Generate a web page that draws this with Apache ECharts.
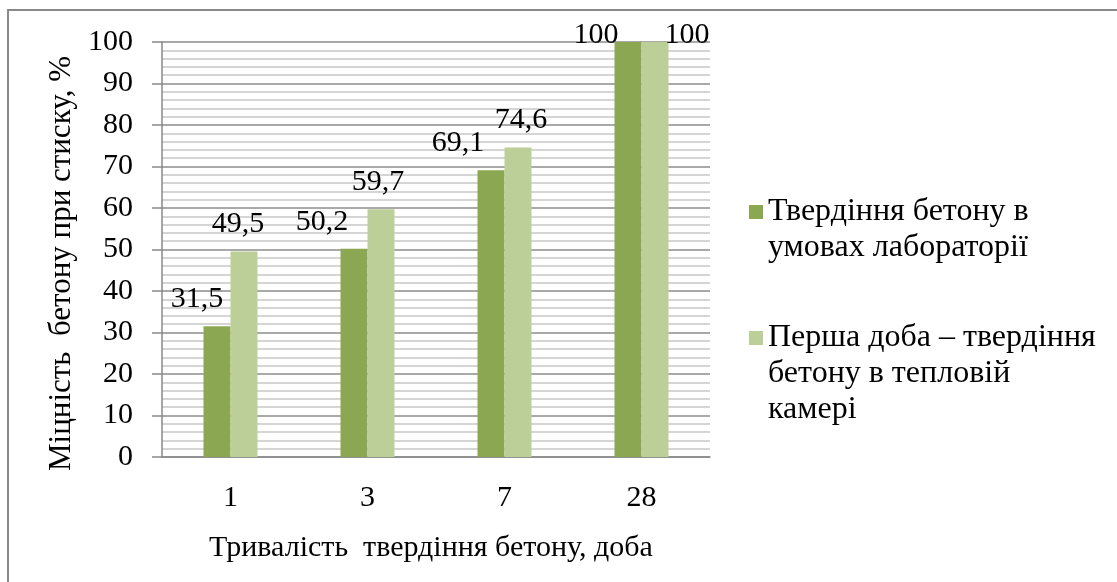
<!DOCTYPE html>
<html>
<head>
<meta charset="utf-8">
<script src="https://cdn.jsdelivr.net/npm/echarts@6/dist/echarts.min.js"></script>
<style>
  html, body { margin: 0; padding: 0; background: #fff; }
  #chart { width: 1117px; height: 582px; }
</style>
</head>
<body>
<div id="chart"></div>
<script>
// curing time, days
const days = ['1', '3', '7', '28'];
// strength, % of 28-day value
const labCuring = [31.5, 50.2, 69.1, 100];
const heatFirstDay = [49.5, 59.7, 74.6, 100];
const seriesNames = [
  'Твердіння бетону в умовах лабораторії',
  'Перша доба – твердіння бетону в тепловій камері'
];
const legendLines = [
  ['Твердіння бетону в', 'умовах лабораторії'],
  ['Перша доба – твердіння', 'бетону в тепловій', 'камері']
];

const FONT = '"Liberation Serif", "Times New Roman", serif';
const darkGreen = '#8ca752';
const lightGreen = '#bccf98';

// label nudges, as Excel placed them
const labShift = [[-20, 0], [-32, 0], [-33, 0], [-32, 20]];
const heatShift = [[-6, 0], [-3, 0], [3, 0], [32, 20]];

function fmt(v) { return String(v).replace('.', ','); }

function withLabels(values, shifts) {
  return values.map((v, i) => ({
    value: v,
    label: { offset: shifts[i] }
  }));
}

// push first line of each legend entry to the icon's height
function legendText(lines) {
  return '\n'.repeat(lines.length - 1) + lines.join('\n');
}

const chart = echarts.init(document.getElementById('chart'));

chart.setOption({
  animation: false,
  textStyle: { fontFamily: FONT },
  graphic: [{
    type: 'rect',
    shape: { x: 8, y: 10, width: 1200, height: 700 },
    style: { fill: 'none', stroke: '#898989', lineWidth: 2 }
  }],
  grid: { left: 162, right: 407, top: 42, bottom: 125 },
  legend: seriesNames.map((name, i) => ({
    data: [name],
    left: 744,
    top: i === 0 ? 153 : 243,
    orient: 'vertical',
    icon: 'rect',
    itemWidth: 14,
    itemHeight: 14,
    itemGap: 0,
    selectedMode: false,
    formatter: () => legendText(legendLines[i]),
    textStyle: { fontFamily: FONT, fontSize: 32, color: '#000', lineHeight: 36 }
  })),
  xAxis: {
    type: 'category',
    data: days,
    name: 'Тривалість  твердіння бетону, доба',
    nameLocation: 'middle',
    nameGap: 76,
    nameTextStyle: { fontFamily: FONT, fontSize: 30, color: '#000', padding: [0, 10, 0, 0] },
    axisLine: { lineStyle: { color: '#898989', width: 1.5 } },
    axisTick: { show: false },
    axisLabel: { fontFamily: FONT, fontSize: 30, color: '#000', margin: 26 }
  },
  yAxis: {
    type: 'value',
    min: 0,
    max: 100,
    interval: 10,
    name: 'Міцність  бетону при стиску, %',
    nameLocation: 'middle',
    nameGap: 85,
    nameTextStyle: { fontFamily: FONT, fontSize: 31, color: '#000', padding: [0, 28, 0, 0] },
    axisLine: { show: true, lineStyle: { color: '#898989', width: 1.5 } },
    axisTick: { show: true, length: 10, lineStyle: { color: '#898989', width: 1.5 } },
    axisLabel: { fontFamily: FONT, fontSize: 30, color: '#000', margin: 29 },
    splitLine: { lineStyle: { color: '#8c8c8c', width: 1.5 } },
    minorTick: { show: false, splitNumber: 5 },
    minorSplitLine: { show: true, lineStyle: { color: '#c8c8c8', width: 1.5 } }
  },
  series: [
    {
      name: seriesNames[0],
      type: 'bar',
      data: withLabels(labCuring, labShift),
      barWidth: 27,
      barGap: '0%',
      itemStyle: { color: darkGreen },
      label: {
        show: true, position: 'top', distance: 12,
        fontFamily: FONT, fontSize: 30, color: '#000',
        formatter: p => fmt(p.value)
      }
    },
    {
      name: seriesNames[1],
      type: 'bar',
      data: withLabels(heatFirstDay, heatShift),
      barWidth: 27,
      barGap: '0%',
      itemStyle: { color: lightGreen },
      label: {
        show: true, position: 'top', distance: 12,
        fontFamily: FONT, fontSize: 30, color: '#000',
        formatter: p => fmt(p.value)
      }
    }
  ]
});
</script>
</body>
</html>
